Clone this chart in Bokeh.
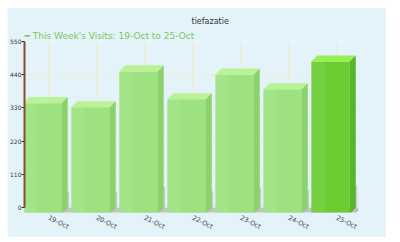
from bokeh.plotting import figure
from bokeh.models import Range1d, FixedTicker, Label, Title
from bokeh.embed import file_html
from bokeh.resources import INLINE

categories = ["19-Oct", "20-Oct", "21-Oct", "22-Oct", "23-Oct", "24-Oct", "25-Oct"]
visits = [366, 352, 471, 379, 461, 412, 504]
y_ticks = [0, 110, 220, 330, 440, 550]
highlight = "25-Oct"
chart_title = "tiefazatie"
series_name = "This Week's Visits"

BAR_W = 0.8      # bar width in category units
DX = 0.125       # 3D depth offset, category units
DY = 20          # 3D depth offset, value units
Y_MIN = -16

W, H = 379, 230
n = len(categories)
xs = list(range(n))

p = figure(width=W, height=H, output_backend="svg", toolbar_location=None,
           x_range=Range1d(-0.5, n - 0.46), y_range=Range1d(Y_MIN, y_ticks[-1]),
           min_border_left=15, min_border_right=24, min_border_top=34,
           min_border_bottom=18, title=None)
p.margin = (7, 0, 0, 7)
p.background_fill_color = "#E4F3FA"
p.border_fill_color = "#E4F3FA"
p.outline_line_color = None

# floor
fl_l, fl_r = -0.6, n - 1 + BAR_W / 2 + 0.05
FLOOR_B = -DY - 10
p.patch([fl_l, fl_r, fl_r - DX, fl_l - DX], [0, 0, -DY, -DY],
        fill_color="#C4C4C4", line_color=None)
p.patch([fl_l - DX, fl_r - DX, fl_r - DX, fl_l - DX], [-DY, -DY, FLOOR_B, FLOOR_B],
        fill_color="#A9A9A9", line_color=None)
p.patch([fl_r, fl_r, fl_r - DX, fl_r - DX], [0, -10, FLOOR_B, -DY],
        fill_color="#B5B5B5", line_color=None)

normal = dict(front="#9DE27E", top="#BAF297", side="#8AD26A")
hl = dict(front="#6ACC31", top="#95F150", side="#58B627")
pal = [hl if c == highlight else normal for c in categories]

# cast shadow to the right of each bar
sh_xs, sh_ys = [], []
for i, v in zip(xs, visits):
    r = i + BAR_W / 2
    sh_xs.append([r - DX, r + 0.03, r + 0.03, r - DX + 0.03])
    sh_ys.append([-DY, 0, v * 0.15, v * 0.15 - DY])
p.patches(sh_xs, sh_ys, fill_color="#AEB9B6", fill_alpha=0.6, line_color=None)

# front faces
left = [i - BAR_W / 2 - DX for i in xs]
right = [i + BAR_W / 2 - DX for i in xs]
p.quad(left=left, right=right, bottom=[-DY] * n, top=[v - DY for v in visits],
       fill_color=[c["front"] for c in pal], line_color=None)
p.quad(left=left, right=[l + BAR_W * 0.35 for l in left], bottom=[-DY] * n,
       top=[v - DY for v in visits], fill_color="white", fill_alpha=0.08, line_color=None)

# top and side faces
top_xs, top_ys, side_xs, side_ys = [], [], [], []
for i, v in zip(xs, visits):
    l, r = i - BAR_W / 2, i + BAR_W / 2
    top_xs.append([l - DX, r - DX, r, l])
    top_ys.append([v - DY, v - DY, v, v])
    side_xs.append([r - DX, r, r, r - DX])
    side_ys.append([-DY, 0, v, v - DY])
p.patches(top_xs, top_ys, fill_color=[c["top"] for c in pal], line_color=None)
p.patches(side_xs, side_ys, fill_color=[c["side"] for c in pal], line_color=None)

# axes
p.yaxis.ticker = FixedTicker(ticks=y_ticks)
p.yaxis.bounds = (y_ticks[0], y_ticks[-1])
p.yaxis.axis_line_color = "#8A4B2C"
p.yaxis.axis_line_width = 2
p.yaxis.major_tick_out = 3
p.yaxis.major_tick_in = 0
p.yaxis.major_tick_line_color = "#333333"
p.yaxis.minor_tick_line_color = None
p.yaxis.minor_tick_out = 0
p.yaxis.major_label_standoff = 0
p.yaxis.major_label_text_font = "DejaVu Sans"
p.yaxis.major_label_text_font_size = "6px"
p.yaxis.major_label_text_color = "#333333"

p.xaxis.ticker = FixedTicker(ticks=xs)
p.xaxis.major_label_overrides = {i: c for i, c in zip(xs, categories)}
p.xaxis.axis_line_color = None
p.xaxis.major_tick_line_color = None
p.xaxis.minor_tick_line_color = None
p.xaxis.major_tick_out = 0
p.xaxis.major_tick_in = 0
p.xaxis.minor_tick_out = 0
p.xaxis.major_label_orientation = -0.45
p.xaxis.major_label_standoff = 5
p.xaxis.major_label_text_font = "DejaVu Sans"
p.xaxis.major_label_text_font_size = "6.5px"
p.xaxis.major_label_text_color = "#444444"

p.xgrid.ticker = FixedTicker(ticks=xs)
p.xgrid.grid_line_color = "#F5EBCC"
p.ygrid.grid_line_color = "#F5EBCC"

# series caption (legend line) just above the plot area
p.add_layout(Title(text=f"\u2501 {series_name}: {categories[0]} to {categories[-1]}",
                   text_font="DejaVu Sans", text_font_size="9px",
                   text_font_style="normal", text_color="#79C85A",
                   align="left", offset=0, standoff=2), "above")
# chart title
p.add_layout(Title(text=chart_title, text_font="DejaVu Sans", text_font_size="8px",
                   text_font_style="normal", text_color="#333333",
                   align="left", offset=167, standoff=3), "above")

# value tooltip for highlighted bar
idx = categories.index(highlight)
p.add_layout(Label(x=idx, y=y_ticks[-1], x_offset=11, y_offset=2,
                   text=str(visits[idx]), text_align="center", text_baseline="bottom",
                   text_font="DejaVu Sans", text_font_size="8px", text_font_style="bold",
                   text_color="#2433A8", background_fill_color="#F4F4F4",
                   border_line_color="#7F7F7F", padding=3, border_radius=2))

open("out.html", "w").write(file_html(p, INLINE))
